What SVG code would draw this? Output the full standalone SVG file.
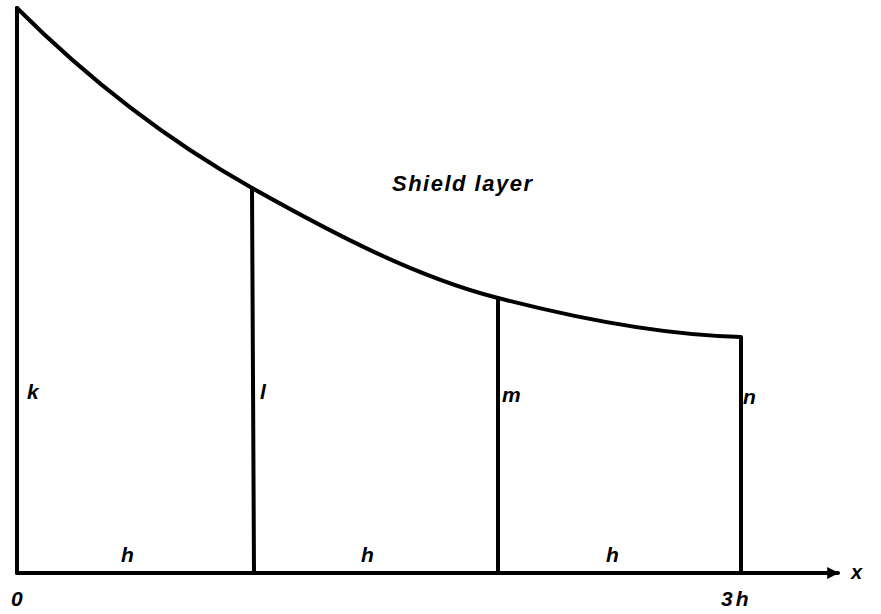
<svg xmlns="http://www.w3.org/2000/svg" width="881" height="614" viewBox="0 0 881 614">
<style>
.ln{fill:none;stroke:#000;stroke-width:4;stroke-linejoin:round;stroke-linecap:round}
.t{font-family:"Liberation Sans",Arial,sans-serif;font-weight:bold;font-style:italic;fill:#000}
</style>
<defs>
<marker id="ar" viewBox="0 0 10 10" refX="9" refY="5" markerWidth="4" markerHeight="3" orient="auto" markerUnits="strokeWidth">
<path d="M0,0 L10,5 L0,10 Z" fill="#000"/>
</marker>
</defs>
<rect width="881" height="614" fill="#fff"/>
<g id="connectors">
<path class="ln" d="M17,573 L17,8"/>
<path class="ln" d="M17,573 L838,573" marker-end="url(#ar)"/>
<path class="ln" d="M17,8 C95,86 174,144 252,188 C334,234 416,277 498,298 C579,319 660,335 741,337 L741,573"/>
<path class="ln" d="M252,188 L254,573"/>
<path class="ln" d="M498,298 L498,573"/>
</g>
<g id="label-shield"><text class="t" x="392" y="191" font-size="22" letter-spacing="1.5">Shield layer</text></g>
<g id="label-k"><text class="t" x="27" y="399" font-size="21">k</text></g>
<g id="label-l"><text class="t" x="260" y="399" font-size="21">l</text></g>
<g id="label-m"><text class="t" x="502" y="402" font-size="21">m</text></g>
<g id="label-n"><text class="t" x="743" y="404" font-size="21">n</text></g>
<g id="label-h1"><text class="t" x="121" y="562" font-size="21">h</text></g>
<g id="label-h2"><text class="t" x="361" y="562" font-size="21">h</text></g>
<g id="label-h3"><text class="t" x="606" y="562" font-size="21">h</text></g>
<g id="label-0"><text class="t" x="11" y="606" font-size="21">0</text></g>
<g id="label-3h"><text class="t" x="721" y="606" font-size="21" letter-spacing="3">3h</text></g>
<g id="label-x"><text class="t" x="851" y="579" font-size="20">x</text></g>
</svg>
